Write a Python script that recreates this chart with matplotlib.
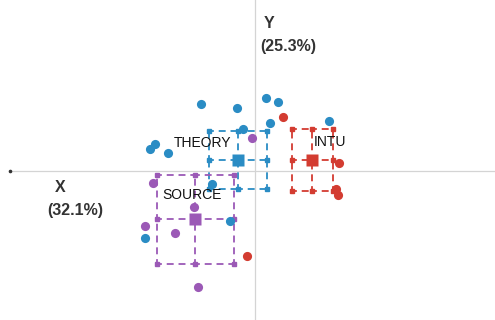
import matplotlib
matplotlib.use('Agg')
import matplotlib.pyplot as plt
import numpy as np

plt.rcParams['font.family'] = ['Liberation Sans', 'DejaVu Sans']
plt.rcParams['lines.scale_dashes'] = False

# individual points per group
theory_x = [-1.08, -0.36, 0.22, 0.46, 0.30, -0.24, -2.10, -2.00, -1.74, 1.48, -0.86, -0.50, -2.20]
theory_y = [1.34, 1.26, 1.46, 1.38, 0.96, 0.84, 0.44, 0.54, 0.36, 1.00, -0.26, -1.00, -1.34]
intu_x = [0.56, 1.68, 1.62, 1.66, -0.16]
intu_y = [1.08, 0.16, -0.36, -0.48, -1.70]
source_x = [-0.06, -2.04, -1.22, -2.20, -1.60, -1.14]
source_y = [0.66, -0.24, -0.72, -1.10, -1.24, -2.32]

# group centroids and half-widths of the dashed boxes
groups = ["THEORY", "INTU", "SOURCE"]
center_x = [-0.34, 1.14, -1.20]
center_y = [0.22, 0.22, -0.96]
half_x = [0.58, 0.41, 0.77]
half_y = [0.58, 0.62, 0.89]
label_x = [-1.06, 1.50, -1.26]
label_y = [0.56, 0.58, -0.48]

colors = {"THEORY": "#2a8cc4", "INTU": "#d33c31", "SOURCE": "#9b59b6"}
points = {"THEORY": (theory_x, theory_y), "INTU": (intu_x, intu_y), "SOURCE": (source_x, source_y)}

fig = plt.figure(figsize=(4.95, 3.2), dpi=100)
ax = fig.add_axes([0, 0, 1, 1])
ax.set_xlim(-5.1, 4.8)
ax.set_ylim(-2.98, 3.42)
ax.axis('off')

# axes through origin
ax.plot([-4.9, 4.8], [0, 0], color="#d4d4d4", lw=0.9, zorder=1)
ax.plot([0, 0], [-2.98, 3.42], color="#d4d4d4", lw=0.9, zorder=1)
ax.plot([-4.9], [0], marker='o', ms=1.6, color="#333333", zorder=2)

for i, g in enumerate(groups):
    c = colors[g]
    xs = [center_x[i] - half_x[i], center_x[i], center_x[i] + half_x[i]]
    ys = [center_y[i] - half_y[i], center_y[i], center_y[i] + half_y[i]]
    for yv in ys:
        for j in range(2):
            ax.plot([xs[j], xs[j + 1]], [yv, yv], color=c, lw=1.3, ls=(1.5, (5, 3.5)), zorder=2)
    for xv in xs:
        for j in range(2):
            ax.plot([xv, xv], [ys[j], ys[j + 1]], color=c, lw=1.3, ls=(1.5, (5, 3.5)), zorder=2)
    gx, gy = np.meshgrid(xs, ys)
    ax.plot(gx.ravel(), gy.ravel(), 's', ms=3.5, color=c, lw=0, zorder=3)

for g in groups:
    px, py = points[g]
    ax.plot(px, py, 'o', ms=6.6, color=colors[g], mec='none', zorder=4)

for i, g in enumerate(groups):
    ax.plot(center_x[i], center_y[i], 's', ms=8.8, color=colors[g], mec='none', zorder=5)
    ax.text(label_x[i], label_y[i], g, ha='center', va='center', fontsize=10, color="#111111", zorder=6)

ax.text(-3.9, -0.32, "X", ha='center', va='center', fontsize=11.5, fontweight='bold', color="#333333")
ax.text(-3.6, -0.78, "(32.1%)", ha='center', va='center', fontsize=11.5, fontweight='bold', color="#333333")
ax.text(0.28, 2.94, "Y", ha='center', va='center', fontsize=11.5, fontweight='bold', color="#333333")
ax.text(0.66, 2.50, "(25.3%)", ha='center', va='center', fontsize=11.5, fontweight='bold', color="#333333")

fig.savefig("out.png", dpi=100)
